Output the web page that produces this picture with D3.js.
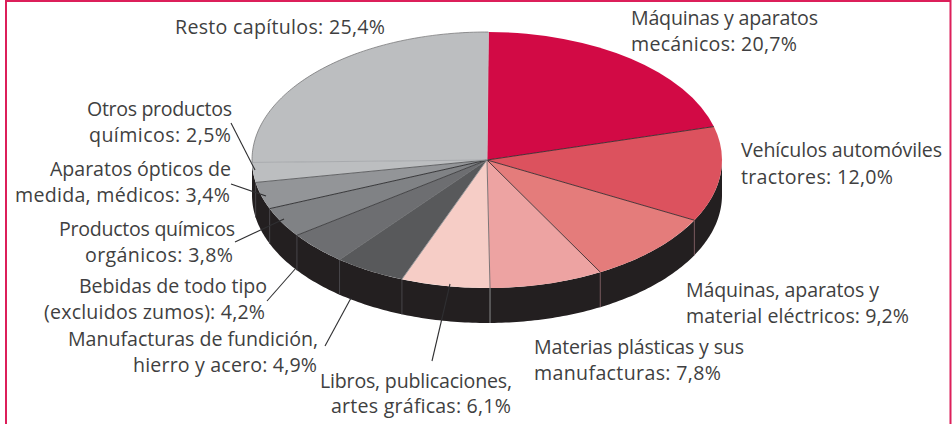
<!DOCTYPE html>
<html><head><meta charset="utf-8">
<script src="https://cdn.jsdelivr.net/npm/d3@7"></script>
<style>html,body{margin:0;padding:0;background:#fff}svg{display:block}text{font-family:"Open Sans",sans-serif;font-size:19.6px;fill:#3f3f41}</style>
</head><body><svg id="c" width="952" height="424"></svg>
<script>
(function(){
const categories=["Máquinas y aparatos mecánicos","Vehículos automóviles tractores","Máquinas, aparatos y material eléctricos","Materias plásticas y sus manufacturas","Libros, publicaciones, artes gráficas","Manufacturas de fundición, hierro y acero","Bebidas de todo tipo (excluidos zumos)","Productos químicos orgánicos","Aparatos ópticos de medida, médicos","Otros productos químicos","Resto capítulos"];
const values=[20.7,12.0,9.2,7.8,6.1,4.9,4.2,3.8,3.4,2.5,25.4];
const colors=["#d20a45","#dc525e","#e47c7b","#eda3a2","#f6cdc6","#58595b","#6d6e71","#808285","#939598","#bcbec0","#bcbec0"];
const labelLines=[
 ["Máquinas y aparatos","mecánicos: 20,7%"],["Vehículos automóviles","tractores: 12,0%"],["Máquinas, aparatos y","material eléctricos: 9,2%"],["Materias plásticas y sus","manufacturas: 7,8%"],["Libros, publicaciones,","artes gráficas: 6,1%"],["Manufacturas de fundición,","hierro y acero: 4,9%"],["Bebidas de todo tipo","(excluidos zumos): 4,2%"],["Productos químicos","orgánicos: 3,8%"],["Aparatos ópticos de","medida, médicos: 3,4%"],["Otros productos","químicos: 2,5%"],["Resto capítulos: 25,4%"]];
// layout of the labels: baseline, line gap, and left/right extent of every line
const labelBase=[[25,26],[157,27],[297,26],[354,25.5],[388,25],[346,26],[293,26],[236,25.5],[176,25.5],[116,26],[34,0]];
const labelExtent=[[[631,818],[631,797]],[[741,942],[741,893]],[[686,879],[686,909]],[[534,744],[534,721]],[[320,512],[331,511]],[[68,318],[133,317]],[[79,267],[44,265]],[[59,235],[85,233]],[[50,231],[15,230]],[[87,232],[89,231]],[[175,385]]];
const leaders=[null,null,null,null,[[432,361],[450,284]],[[325,346],[351,298]],[[267,301],[296,268]],[[235,242],[284,219]],[[231,184],[266,196]],[[231,123],[255,170]],null];
const dividerColors=["#3a2a2e","#3a2a2e","#3a2a2e","#6f6a6c","#9a9a9c","#6d6e71","#3a3a3c","#2a2a2c","#58595b","#a4a6a9","#c4c0c2"];
const seamColors=["#231f20","#7a5a5e","#7a5a5e","#8a8a8c","#48464a","#48464a","#48464a","#48464a","#48464a"];

const svg=d3.select("#c");
const cx=487,cy=160,rx=235,ry=128,depth=35;
const px=a=>cx+rx*Math.sin(a), py=a=>cy-ry*Math.cos(a);
const arcs=d3.pie().sort(null).value(d=>d).startAngle(0.006).endAngle(2*Math.PI+0.006)(values);

svg.append("path").attr("d","M6,424V1H950.5V424").attr("fill","none").attr("stroke","#dc1f5a").attr("stroke-width",2);

const sideAngles=d3.range(0,1.0001,0.005).map(t=>Math.PI/2+t*Math.PI);
svg.append("path").datum(sideAngles)
 .attr("d",d3.area().x(px).y0(py).y1(a=>py(a)+depth))
 .attr("fill","#231f20");
arcs.slice(0,-1).forEach((d,i)=>{
  if(d.endAngle>Math.PI/2&&d.endAngle<1.5*Math.PI)
   svg.append("line").attr("x1",px(d.endAngle)).attr("y1",py(d.endAngle)).attr("x2",px(d.endAngle)).attr("y2",py(d.endAngle)+depth)
    .attr("stroke",seamColors[i]).attr("stroke-width",1);
});
const arc=d3.arc().innerRadius(0).outerRadius(rx);
const pieTop=svg.append("g").attr("transform",`translate(${cx},${cy}) scale(1,${ry/rx})`);
pieTop.selectAll("path").data(arcs).join("path").attr("d",arc).attr("fill",(d,i)=>colors[i]);
arcs.forEach((d,i)=>{
  svg.append("line").attr("x1",cx).attr("y1",cy).attr("x2",px(d.endAngle)).attr("y2",py(d.endAngle))
   .attr("stroke",dividerColors[i]).attr("stroke-width",0.9);
});
// thin outline along the grey back rim
const rest=arcs[arcs.length-1];
svg.append("path").datum(d3.range(0,1.0001,0.01).map(t=>rest.startAngle+t*(rest.endAngle-rest.startAngle)))
 .attr("d",d3.line().x(px).y(py)).attr("fill","none").attr("stroke","#6a6a6c").attr("stroke-width",0.7);
leaders.forEach(l=>{ if(l) svg.append("path").attr("d",d3.line()(l)).attr("fill","none").attr("stroke","#2f2f31").attr("stroke-width",1.1); });
categories.forEach((c,i)=>{
  const [y,gap]=labelBase[i];
  labelLines[i].forEach((s,j)=>{
    const [x0,x1]=labelExtent[i][j];
    svg.append("text").attr("x",x0).attr("y",y+j*gap).attr("textLength",x1-x0).attr("lengthAdjust","spacing").text(s);
  });
});
})();
</script></body></html>
